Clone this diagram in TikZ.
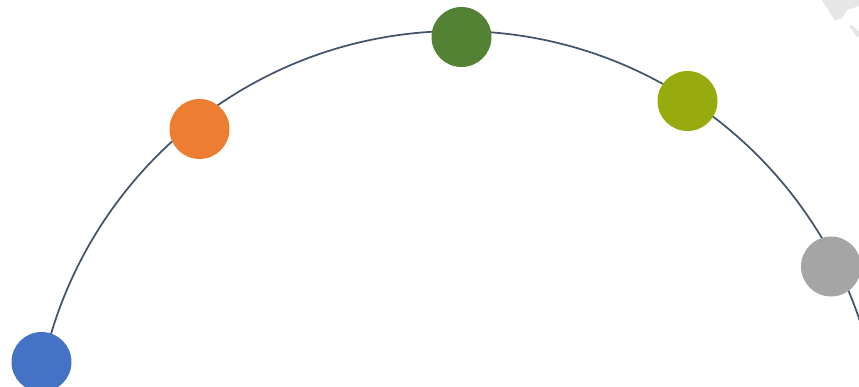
\documentclass[tikz,border=0pt]{standalone}
\usepackage{tikz}
\definecolor{lineblue}{HTML}{44546A}
\definecolor{dotblue}{HTML}{4472C4}
\definecolor{dotorange}{HTML}{ED7D31}
\definecolor{dotgreen}{HTML}{548235}
\definecolor{dotlime}{HTML}{97AB0F}
\definecolor{dotgray}{HTML}{A5A5A5}
\definecolor{markgray}{HTML}{E6E6E6}

\begin{document}
\begin{tikzpicture}[x=0.02cm, y=-0.02cm,
    dot/.style={circle, inner sep=0pt, minimum size=1.2cm}]

      \useasboundingbox (0, 0) rectangle (859, 386);
      \clip (0, 0) rectangle (859, 386);

      % faint mark in the corner
      \fill[markgray] (821.7, 0) -- (835, 20.7) -- (841.7, 18.3) -- (847.3, 10) -- (859, 6) -- (859, 0) -- cycle;
      \fill[markgray] (849, 26) -- (851.7, 25) -- (859, 31.7) -- (859, 36.7) -- (856.7, 36.7) -- cycle;

      % the arc
      \coordinate (mid) at (457.5, 455);
      \draw[lineblue, line width=1pt] (mid) circle (424);

      % dots on the arc
      \node[dot, fill=dotblue] (first) at (41.5, 362) {};
      \node[dot, fill=dotorange] (second) at (199.5, 129) {};
      \node[dot, fill=dotgreen] (third) at (461.5, 37) {};
      \node[dot, fill=dotlime] (fourth) at (687.5, 101) {};
      \node[dot, fill=dotgray] (fifth) at (831, 266.5) {};
    \end{tikzpicture}
\end{document}
